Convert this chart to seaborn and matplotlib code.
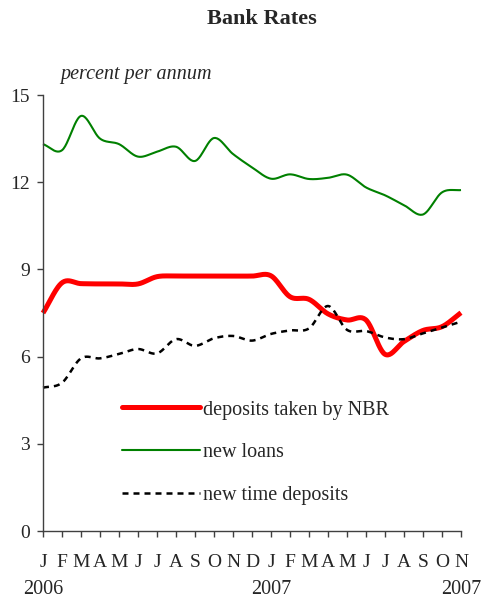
import numpy as np
import pandas as pd
import matplotlib
matplotlib.use("Agg")
import matplotlib.pyplot as plt
from matplotlib.lines import Line2D
import seaborn as sns

# Monthly bank rates, Jan 2006 - Nov 2007 (percent per annum)
months = ["J", "F", "M", "A", "M", "J", "J", "A", "S", "O", "N", "D",
          "J", "F", "M", "A", "M", "J", "J", "A", "S", "O", "N"]
year_labels = {0: "2006", 12: "2007", 22: "2007"}

nbr_deposits = [7.50, 8.54, 8.51, 8.50, 8.50, 8.50, 8.75, 8.77, 8.77, 8.77, 8.77, 8.77,
                8.78, 8.06, 7.97, 7.47, 7.26, 7.26, 6.08, 6.52, 6.90, 7.03, 7.51]
new_loans = [13.31, 13.10, 14.28, 13.50, 13.31, 12.88, 13.05, 13.22, 12.73, 13.52, 12.97, 12.51,
             12.12, 12.27, 12.11, 12.15, 12.26, 11.82, 11.55, 11.21, 10.89, 11.65, 11.73]
time_deposits = [4.93, 5.10, 5.94, 5.94, 6.09, 6.26, 6.11, 6.60, 6.37, 6.63, 6.71, 6.55,
                 6.78, 6.90, 6.97, 7.74, 6.92, 6.88, 6.66, 6.60, 6.80, 7.00, 7.20]

series_names = ["deposits taken by NBR", "new loans", "new time deposits"]


def smooth(y, steps=24):
    """Catmull-Rom curve through the monthly points (smoothed line rendering)."""
    y = np.asarray(y, dtype=float)
    x = np.arange(len(y), dtype=float)
    px = np.concatenate([[2 * x[0] - x[1]], x, [2 * x[-1] - x[-2]]])
    py = np.concatenate([[2 * y[0] - y[1]], y, [2 * y[-1] - y[-2]]])
    xs, ys = [], []
    t = np.linspace(0, 1, steps, endpoint=False)
    for i in range(1, len(px) - 2):
        p0, p1, p2, p3 = py[i - 1], py[i], py[i + 1], py[i + 2]
        q0, q1, q2, q3 = px[i - 1], px[i], px[i + 1], px[i + 2]
        for a, b, c, d, out in ((q0, q1, q2, q3, xs), (p0, p1, p2, p3, ys)):
            out.extend(0.5 * ((2 * b) + (-a + c) * t + (2 * a - 5 * b + 4 * c - d) * t ** 2
                              + (-a + 3 * b - 3 * c + d) * t ** 3))
    xs.append(x[-1])
    ys.append(y[-1])
    return np.array(xs), np.array(ys)


frames = []
for name, vals in zip(series_names, [nbr_deposits, new_loans, time_deposits]):
    sx, sy = smooth(vals)
    frames.append(pd.DataFrame({"month": sx, "rate": sy, "series": name}))
df = pd.concat(frames, ignore_index=True)

sns.set_theme(style="white")
plt.rcParams["font.family"] = ["Liberation Serif", "DejaVu Serif"]

fig = plt.figure(figsize=(4.92, 6.01), dpi=100)
ax = fig.add_axes([43 / 492, 70 / 601, 418 / 492, 436 / 601])

palette = {"deposits taken by NBR": "#ff0000", "new loans": "#008000",
           "new time deposits": "#000000"}
sns.lineplot(data=df, x="month", y="rate", hue="series", style="series",
             palette=palette, sort=False, estimator=None,
             dashes={"deposits taken by NBR": "", "new loans": "",
                     "new time deposits": (2.4, 2.0)},
             ax=ax, legend=False)

widths = {"deposits taken by NBR": 3.6, "new loans": 1.5, "new time deposits": 1.8}
for line, name in zip(ax.get_lines(), series_names):
    line.set_linewidth(widths[name])
    line.set_clip_on(False)
    line.set_solid_capstyle("butt")

ax.set_xlim(0, 22)
ax.set_ylim(0, 15)
ax.set_yticks([0, 3, 6, 9, 12, 15])
ax.set_xticks(range(len(months)))
ax.set_xticklabels(months)
ax.set_xlabel("")
ax.set_ylabel("")

for side in ("top", "right"):
    ax.spines[side].set_visible(False)
for side in ("left", "bottom"):
    ax.spines[side].set_color("#404040")
    ax.spines[side].set_linewidth(1.0)

ax.tick_params(axis="y", direction="out", length=4.3, width=1.0, color="#404040",
               pad=5, labelsize=14, left=True)
ax.tick_params(axis="x", direction="out", length=4.3, width=1.0, color="#404040",
               pad=12, labelsize=14, bottom=True)

for i, yr in year_labels.items():
    ax.text(i, -0.135, yr, transform=ax.get_xaxis_transform(), ha="center",
            va="center", fontsize=14.5)

# Legend drawn inside the plot area
handles = [Line2D([], [], color="#ff0000", lw=3.6),
           Line2D([], [], color="#008000", lw=1.5),
           Line2D([], [], color="#000000", lw=1.8, dashes=(2.4, 2.0))]
ax.legend(handles, series_names, loc="upper left", bbox_to_anchor=(0.17, 0.318),
          frameon=False, fontsize=14.5, handlelength=3.85, handletextpad=0.15,
          labelspacing=1.18, borderaxespad=0)

fig.text(262 / 492, 1 - 19 / 601, "Bank Rates", ha="center", va="center",
         fontsize=16, fontweight="bold")
fig.text(60 / 492, 1 - 75 / 601, "percent per annum", ha="left", va="center",
         fontsize=14.5, style="italic")

fig.savefig("out.png", dpi=100)
